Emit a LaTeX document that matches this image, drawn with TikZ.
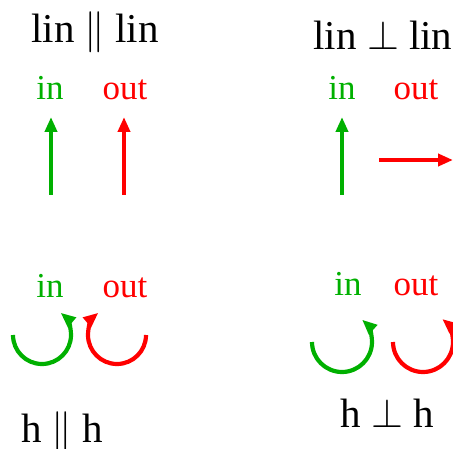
\documentclass[tikz,border=0pt]{standalone}
\usepackage{fix-cm}
\usepackage{fontspec}
\setmainfont{Liberation Serif}
\usetikzlibrary{arrows.meta}
\definecolor{incol}{RGB}{0,176,0}
\definecolor{outcol}{RGB}{255,0,0}
\begin{document}
\begin{tikzpicture}[
                x=1pt, y=1pt,
                titletext/.style={font=\fontsize{41}{45}\selectfont, anchor=base, inner sep=0pt},
                porttext/.style={font=\fontsize{35}{38}\selectfont, anchor=base, inner sep=0pt},
                flow/.style={-{Triangle[length=15pt,width=12pt]}, line width=4.2pt}
                ]
                \useasboundingbox (0,0) rectangle (453,448);

                % linear, parallel
                \node[titletext] (linpar) at (95,405) {lin $\|$ lin};
                \node[porttext, text=incol] (inA) at (50,348) {in};
                \node[porttext, text=outcol] (outA) at (125,348) {out};
                \coordinate (inAfrom) at (51,253);
                \coordinate (inAto) at (51,331);
                \coordinate (outAfrom) at (124,253);
                \coordinate (outAto) at (124,331);
                \draw[flow, incol] (inAfrom) -- (inAto);
                \draw[flow, outcol] (outAfrom) -- (outAto);

                % linear, perpendicular
                \node[titletext] (linperp) at (383,398) {lin $\perp$ lin};
                \node[porttext, text=incol] (inB) at (342,348) {in};
                \node[porttext, text=outcol] (outB) at (416,348) {out};
                \coordinate (inBfrom) at (342,253);
                \coordinate (inBto) at (342,331);
                \coordinate (outBfrom) at (379,288);
                \coordinate (outBto) at (453,288);
                \draw[flow, incol] (inBfrom) -- (inBto);
                \draw[flow, outcol] (outBfrom) -- (outBto);

                % helical, parallel
                \node[porttext, text=incol] (inC) at (50,151) {in};
                \node[porttext, text=outcol] (outC) at (125,151) {out};
                \node[titletext] (hpar) at (62,6) {h $\|$ h};
                \coordinate (inCfrom) at (13,113);
                \coordinate (outCfrom) at (146,113);
                \draw[flow, incol] (inCfrom) arc[start angle=180, end angle=410, radius=29];
                \draw[flow, outcol] (outCfrom) arc[start angle=0, end angle=-230, radius=29];

                % helical, perpendicular
                \node[porttext, text=incol] (inD) at (348,153) {in};
                \node[porttext, text=outcol] (outD) at (416,153) {out};
                \node[titletext] (hperp) at (387,21) {h $\perp$ h};
                \coordinate (inDfrom) at (312,106);
                \coordinate (outDfrom) at (393,106);
                \draw[flow, incol] (inDfrom) arc[start angle=180, end angle=408, radius=30];
                \draw[flow, outcol] (outDfrom) arc[start angle=180, end angle=410, radius=30];
            \end{tikzpicture}
\end{document}
